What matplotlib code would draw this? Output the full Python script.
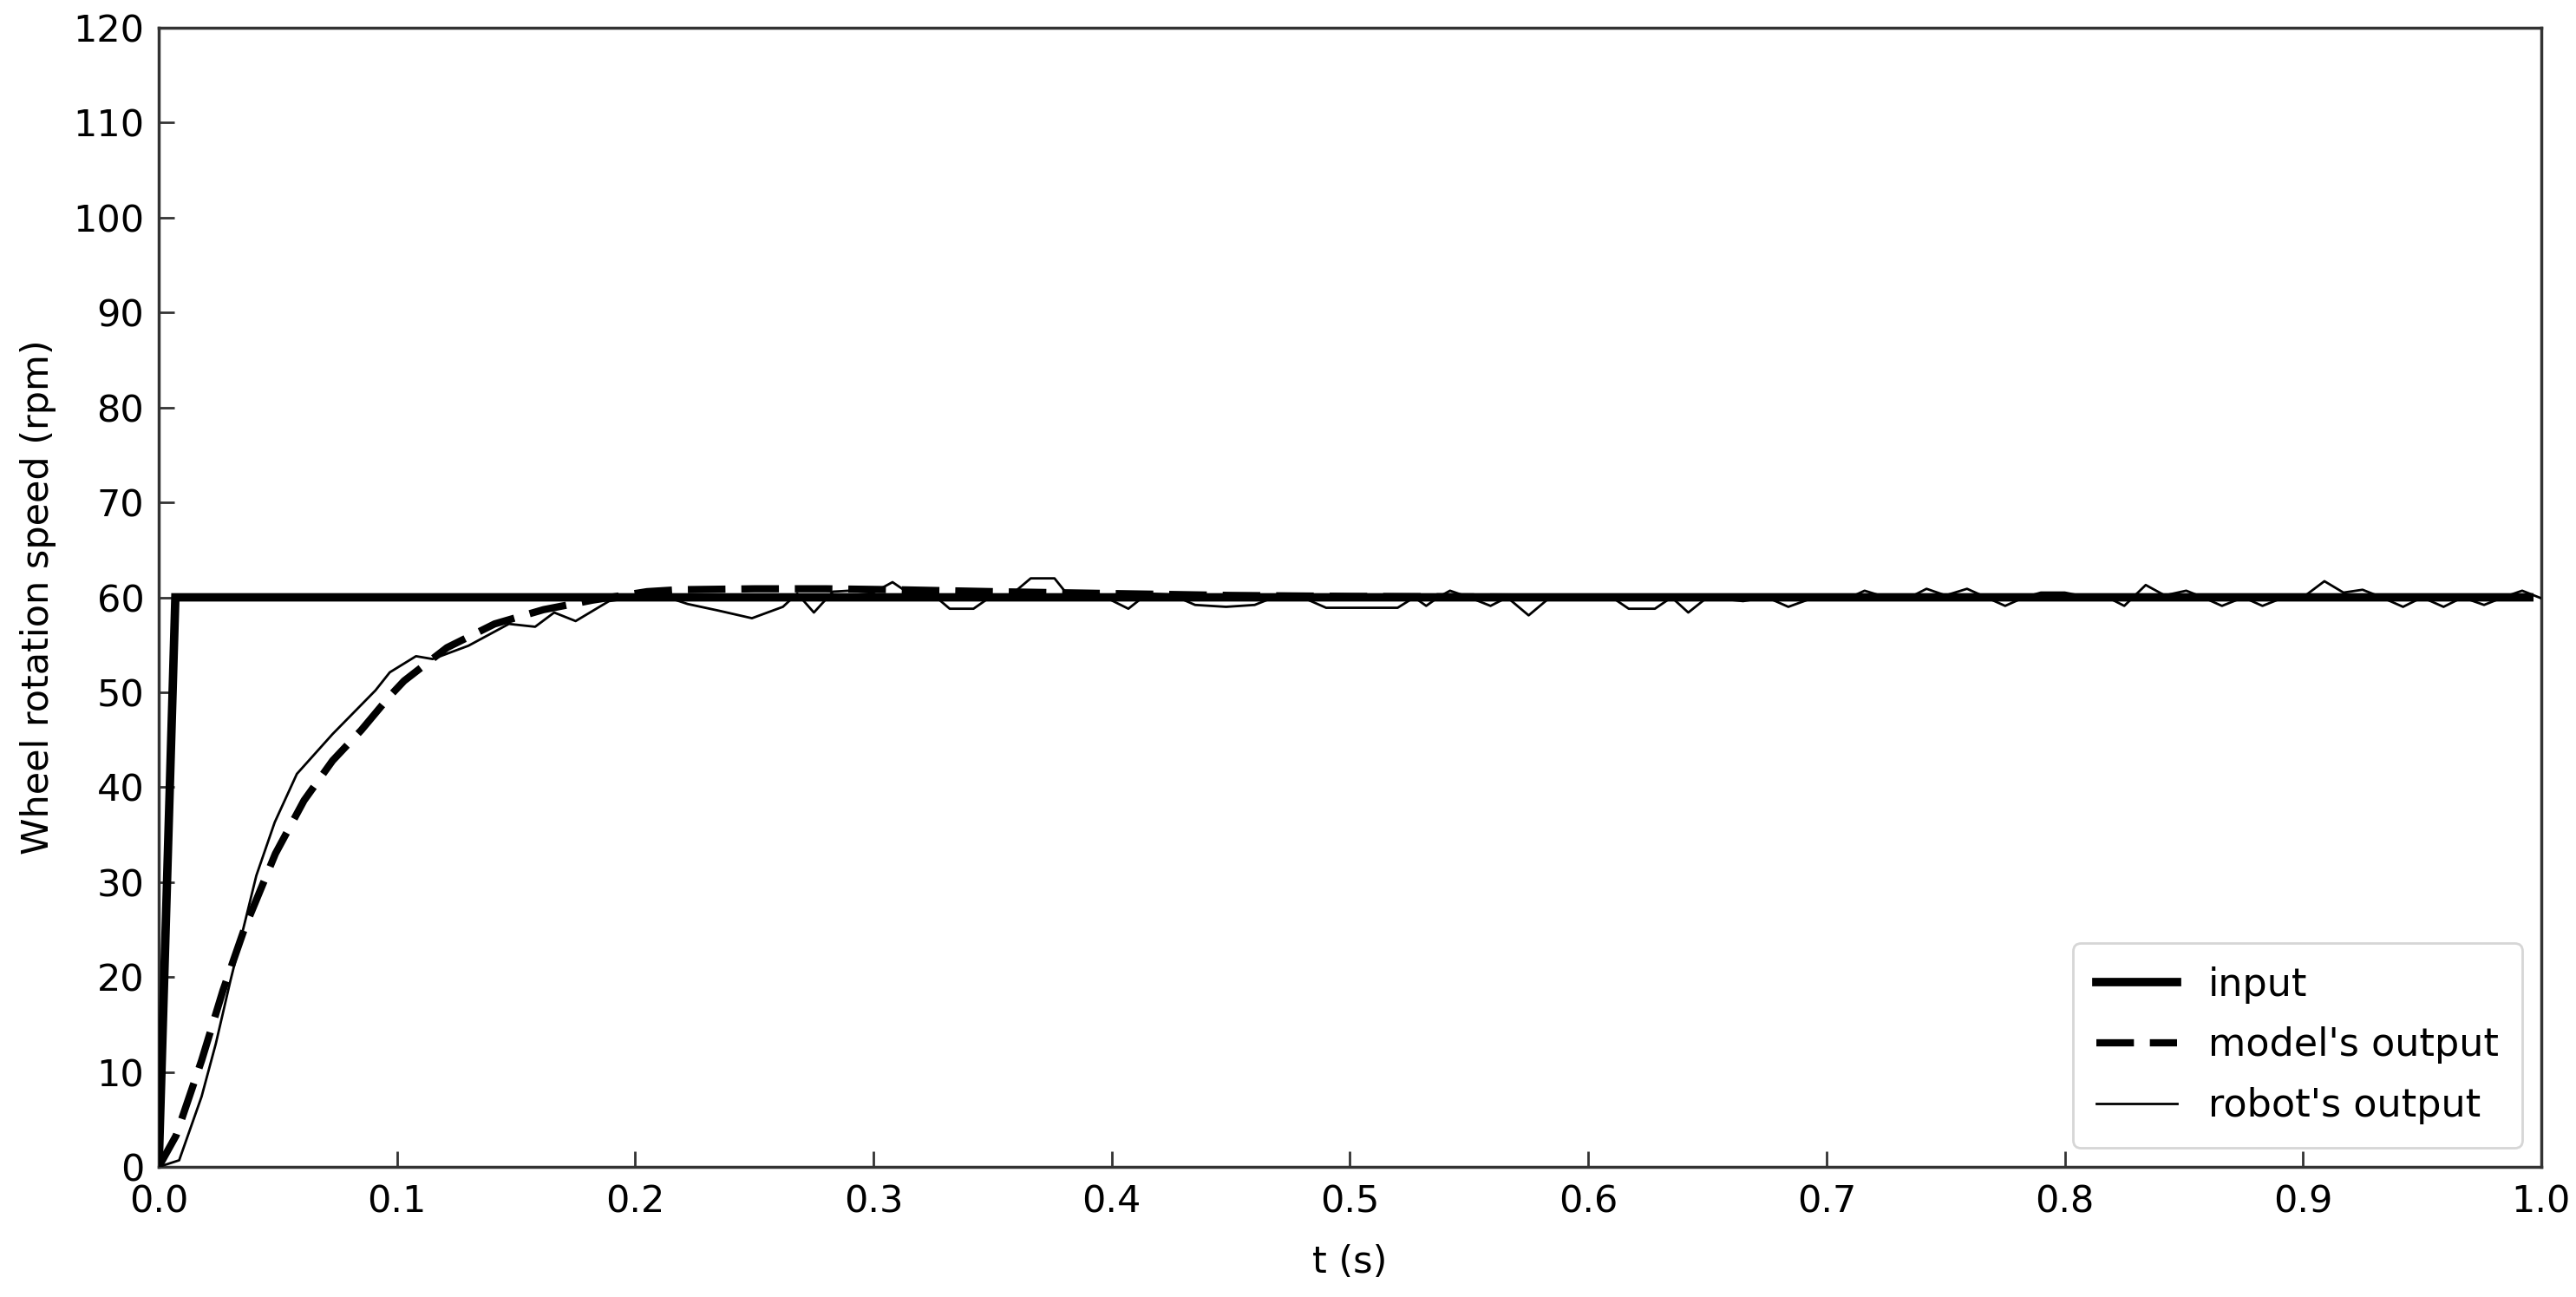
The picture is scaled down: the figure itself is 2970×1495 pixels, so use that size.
import matplotlib
matplotlib.use("Agg")
import matplotlib.pyplot as plt
import numpy as np

# ---- data ----
input_t = [0.0, 0.007, 0.995]
input_v = [0.0, 60.0, 60.0]

model_t = [0.0, 0.0073, 0.018, 0.027, 0.036, 0.049, 0.061, 0.073, 0.085, 0.097,
           0.103, 0.121, 0.141, 0.1615, 0.182, 0.205, 0.218, 0.25, 0.28, 0.31,
           0.35, 0.40, 0.45, 0.50, 0.60, 0.70, 0.80, 0.90, 0.995]
model_v = [0.0, 3.3, 11.2, 18.6, 25.1, 33.0, 38.6, 42.8, 46.0, 49.6,
           51.2, 54.7, 57.2, 58.7, 59.7, 60.6, 60.8, 60.9, 60.9, 60.8,
           60.6, 60.4, 60.2, 60.1, 60.0, 60.0, 60.0, 60.0, 60.0]

robot_t = [0.0, 0.0086, 0.018, 0.024, 0.030, 0.0364, 0.041, 0.0487, 0.058, 0.073,
           0.091, 0.097, 0.108, 0.115, 0.130, 0.147, 0.158, 0.166, 0.175, 0.189,
           0.200, 0.210, 0.222, 0.235, 0.249, 0.262, 0.268, 0.275, 0.283, 0.290,
           0.300, 0.308, 0.315, 0.325, 0.332, 0.342, 0.350, 0.358, 0.366, 0.376,
           0.383, 0.395, 0.407, 0.415, 0.425, 0.435, 0.448, 0.460, 0.470, 0.480,
           0.490, 0.520, 0.527, 0.532, 0.537, 0.542, 0.550, 0.559, 0.566, 0.575,
           0.584, 0.600, 0.610, 0.617, 0.628, 0.635, 0.642, 0.650, 0.665, 0.675,
           0.684, 0.695, 0.710, 0.716, 0.725, 0.735, 0.742, 0.750, 0.759, 0.767,
           0.775, 0.783, 0.790, 0.800, 0.810, 0.818, 0.825, 0.834, 0.842, 0.851,
           0.858, 0.866, 0.875, 0.883, 0.892, 0.900, 0.909, 0.917, 0.925, 0.933,
           0.942, 0.950, 0.959, 0.967, 0.976, 0.984, 0.992, 1.000]
robot_v = [0.0, 0.7, 7.4, 13.0, 19.5, 26.0, 30.7, 36.3, 41.4, 45.6,
           50.2, 52.1, 53.8, 53.5, 54.9, 57.2, 56.9, 58.4, 57.5, 59.6,
           60.0, 60.3, 59.3, 58.6, 57.8, 59.0, 60.4, 58.4, 60.6, 60.7,
           60.5, 61.6, 60.4, 60.3, 58.8, 58.8, 60.2, 60.3, 62.0, 62.0,
           59.8, 60.3, 58.8, 60.4, 60.3, 59.2, 59.0, 59.2, 60.2, 60.0,
           58.9, 58.9, 60.0, 59.1, 60.0, 60.7, 60.0, 59.1, 60.0, 58.1,
           60.0, 60.0, 60.0, 58.8, 58.8, 60.0, 58.4, 60.0, 59.6, 60.0,
           59.0, 60.0, 60.0, 60.7, 60.0, 60.0, 60.9, 60.2, 60.9, 60.0,
           59.1, 60.0, 60.5, 60.5, 60.0, 60.0, 59.1, 61.3, 60.2, 60.7,
           60.0, 59.1, 60.0, 59.1, 60.0, 60.0, 61.7, 60.5, 60.8, 60.0,
           59.0, 60.0, 59.0, 60.0, 59.2, 60.0, 60.7, 59.9]

x_ticks = [0.0, 0.1, 0.2, 0.3, 0.4, 0.5, 0.6, 0.7, 0.8, 0.9, 1.0]
y_ticks = [0, 10, 20, 30, 40, 50, 60, 70, 80, 90, 100, 110, 120]

plt.rcParams['font.family'] = ['DejaVu Sans']
FS = 31
LFS = 32

fig = plt.figure(figsize=(29.70, 14.95), dpi=100)
ax = fig.add_axes([0.0616, 0.1003, 0.9249, 0.8783])

ax.plot(input_t, input_v, color='black', lw=7.0, solid_joinstyle='miter',
        label='input', zorder=3)
ax.plot(model_t, model_v, color='black', lw=6.0, dashes=(5.2, 2.2),
        dash_capstyle='butt', label="model's output", zorder=4)
ax.plot(robot_t, robot_v, color='black', lw=2.0, label="robot's output", zorder=5)

ax.set_xlim(0, 1.0)
ax.set_ylim(0, 120)
ax.set_xticks(x_ticks)
ax.set_yticks(y_ticks)
ax.set_xticklabels([f"{v:.1f}" for v in x_ticks])
ax.tick_params(direction='in', length=13, width=2, labelsize=FS, pad=12,
               color='#333333', top=False, right=False)
ax.tick_params(axis='x', pad=14)
for s in ax.spines.values():
    s.set_linewidth(2.5)
    s.set_color('#333333')

ax.set_xlabel('t (s)', fontsize=FS, labelpad=20)
ax.set_ylabel('Wheel rotation speed (rpm)', fontsize=FS, labelpad=14)

leg = ax.legend(loc='lower right', fontsize=LFS, handlelength=2.1,
                labelspacing=0.6, borderpad=0.6,
                frameon=True, fancybox=True, borderaxespad=0.5)
leg.get_frame().set_edgecolor('#cccccc')
leg.get_frame().set_linewidth(2)

fig.savefig('out.png', dpi=100)
